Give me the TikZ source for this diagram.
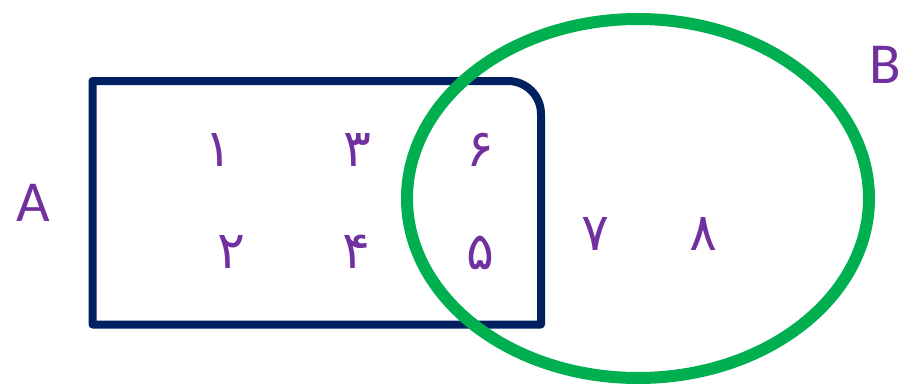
\documentclass[tikz,border=0pt]{standalone}
\usepackage{fontspec}
\setmainfont{Carlito}
\newfontfamily\arabicfont[Script=Arabic]{DejaVu Sans}
\usepackage{tikz}
\usepackage{xcolor}
\usetikzlibrary{positioning}

\definecolor{setnavy}{HTML}{002060}
\definecolor{setgreen}{HTML}{00B050}
\definecolor{setpurple}{HTML}{7030A0}

\begin{document}
\begin{tikzpicture}[x=1pt, y=1pt,
    setname/.style={text=setpurple, inner sep=0pt, font=\fontsize{58}{60}\selectfont},
    elem/.style={text=setpurple, inner sep=0pt, font=\arabicfont\fontsize{52}{54}\selectfont}]
    \useasboundingbox (0,0) rectangle (906,384);

    % Set A (box with one rounded corner)
    \draw[setnavy, line width=8pt, line join=round]
        (92.5,303) -- (508,303) arc[start angle=90, end angle=0, radius=33]
        -- (541,59.5) -- (92.5,59.5) -- cycle;

    % Set B
    \draw[setgreen, line width=12pt] (638,185.5) ellipse [x radius=231, y radius=179.5];

    % Set names
    \node[setname] (nameA) at (33,181) {A};
    \node[setname] (nameB) at (885,319) {B};

    % Elements
    \node[elem] (e1) at (218,234) {۱};
    \node[elem] (e3) at (357,234) {۳};
    \node[elem] (e6) at (480,234) {۶};
    \node[elem] (e2) at (231,132) {۲};
    \node[elem] (e4) at (356,132) {۴};
    \node[elem] (e5) at (480,131) {۵};
    \node[elem] (e7) at (595,150) {۷};
    \node[elem] (e8) at (703,150) {۸};
\end{tikzpicture}
\end{document}
